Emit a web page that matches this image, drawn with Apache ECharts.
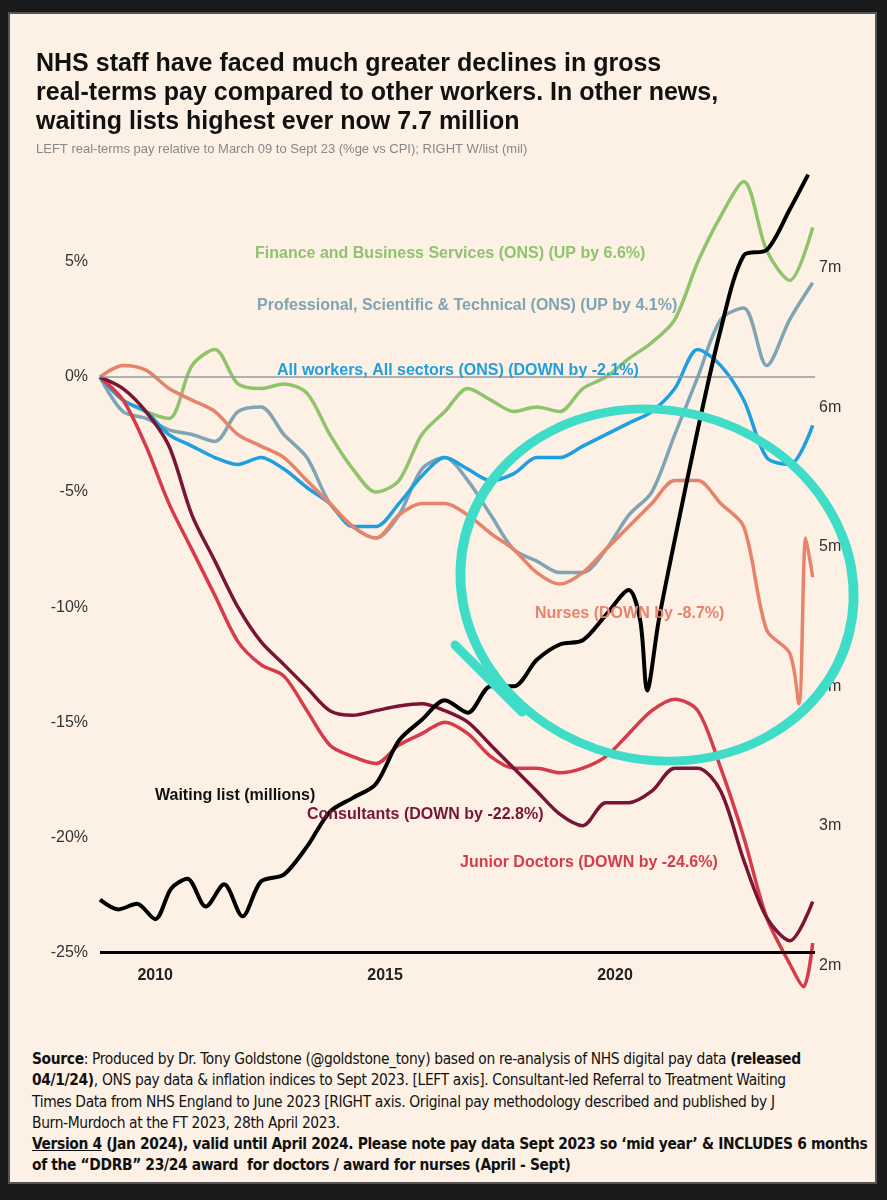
<!DOCTYPE html>
<html><head><meta charset="utf-8">
<script src="https://cdn.jsdelivr.net/npm/echarts@6/dist/echarts.min.js"></script>
<style>
html,body{margin:0;padding:0;background:#1a1a1a;}
#wrap{position:absolute;left:8px;top:12px;width:869px;height:1172px;background:#fdf1e6;border:2px solid #555;box-sizing:border-box;}
#chart{position:absolute;left:0;top:0;width:887px;height:1040px;}
#foot{position:absolute;left:32px;top:1049px;width:850px;font-family:"DejaVu Sans Condensed","Liberation Sans Narrow",sans-serif;font-stretch:condensed;font-size:15.4px;line-height:21.3px;color:#111;letter-spacing:-0.35px;white-space:nowrap;}
</style></head><body>
<div id="wrap"></div>
<div id="chart"></div>
<div id="foot"><b>Source</b>: Produced by Dr. Tony Goldstone (@goldstone_tony) based on re-analysis of NHS digital pay data <b>(released</b><br><b>04/1/24)</b>, ONS pay data &amp; inflation indices to Sept 2023. [LEFT axis]. Consultant-led Referral to Treatment Waiting<br>Times Data from NHS England to June 2023 [RIGHT axis. Original pay methodology described and published by J<br>Burn-Murdoch at the FT 2023, 28th April 2023.<br><b><u>Version 4</u> (Jan 2024), valid until April 2024. Please note pay data Sept 2023 so ‘mid year’ &amp; INCLUDES 6 months</b><br><b>of the “DDRB” 23/24 award &nbsp;for doctors / award for nurses (April - Sept)</b></div>
<script>
const years = [2008.8,2009.3,2009.8,2010.3,2010.8,2011.3,2011.8,2012.3,2012.8,2013.3,2013.8,2014.3,2014.8,2015.3,2015.8,2016.3,2016.8,2017.3,2017.8,2018.3,2018.8,2019.3,2019.8,2020.3,2020.8,2021.3,2021.8,2022.3,2022.8,2023.3,2023.8,2024.3];
const finance = [0,-1,-1.5,-1.8,0.5,1.2,-0.3,-0.5,-0.3,-0.7,-2.5,-4,-5,-4.5,-2.5,-1.5,-0.5,-1,-1.5,-1.3,-1.5,-0.5,0,0.8,1.5,2.5,5,7,8.5,5.5,4.2,6.5];
const professional = [0,-1.5,-1.8,-2.3,-2.5,-2.8,-1.5,-1.3,-2.5,-3.5,-5.5,-6.5,-7,-6,-4,-3.5,-4.5,-6,-7.5,-8,-8.5,-8.5,-7.5,-6,-5,-2.5,0,2.5,3,0.5,2.5,4.1];
const allWorkers = [0,-1,-1.5,-2.5,-3,-3.5,-3.8,-3.5,-4,-4.8,-5.5,-6.5,-6.5,-5.5,-4.3,-3.5,-4,-4.5,-4.2,-3.5,-3.5,-3,-2.5,-2,-1.5,-0.5,1.2,0.5,-1,-3.5,-3.8,-2.1];
const nurseYears = years.slice(0,31).concat([2024.0,2024.15,2024.3]);
const nurses = [0,0.5,0.3,-0.5,-1,-1.5,-2.5,-3,-3.5,-4.5,-5.5,-6.5,-7,-6,-5.5,-5.5,-6,-6.8,-7.5,-8.5,-9,-8.5,-7.5,-6.5,-5.5,-4.5,-4.5,-5.5,-6.5,-11,-12,-14.2,-7,-8.7];
const consultants = [0,-0.5,-1.5,-3,-6,-8,-10,-11.5,-12.5,-13.5,-14.5,-14.7,-14.5,-14.3,-14.2,-14.5,-15,-16,-17,-18,-19,-19.5,-18.5,-18.5,-18,-17,-17,-18,-21,-23.5,-24.5,-22.8];
const juniorYears = years.slice(0,31).concat([2024.1,2024.3]);
const junior = [0,-1,-3,-5.5,-7.5,-9.5,-11.5,-12.5,-13,-14.5,-16,-16.5,-16.8,-16,-15.5,-15,-15.5,-16.5,-17,-17,-17.2,-17,-16.5,-15.5,-14.5,-14,-14.5,-17,-20,-23.5,-25.5,-26.5,-24.6];
const waitYears = [2008.8,2009.2,2009.6,2010.0,2010.35,2010.7,2011.1,2011.5,2011.9,2012.3,2012.8,2013.3,2013.8,2014.3,2014.8,2015.3,2015.8,2016.3,2016.8,2017.3,2017.8,2018.3,2018.8,2019.3,2019.8,2020.3,2020.55,2020.7,2020.95,2021.3,2021.8,2022.3,2022.8,2023.3,2023.8,2024.2];
const waiting = [2.47,2.4,2.44,2.33,2.55,2.62,2.42,2.58,2.35,2.6,2.65,2.85,3.1,3.2,3.3,3.61,3.76,3.9,3.81,4.0,4.0,4.19,4.3,4.33,4.51,4.69,4.47,3.97,4.47,5.05,5.84,6.56,7.09,7.13,7.42,7.67];
const leftTicks = [-25,-20,-15,-10,-5,0,5];
const rightTicks = [2,3,4,5,6,7];
const xTicks = [2010,2015,2020];

const zip = (xs, ys) => xs.map((x,i)=>[x,ys[i]]);
const chart = echarts.init(document.getElementById('chart'));
const mk = (name,xs,ys,color,yi,w) => ({name,type:'line',data:zip(xs,ys),yAxisIndex:yi||0,showSymbol:false,smooth:0.3,clip:false,lineStyle:{color,width:w||3.5},itemStyle:{color},silent:true,z:yi?5:3});
const lbl = (text,x,y,color,size) => ({type:'text',left:x,top:y,style:{text,fill:color,font:'bold '+(size||16)+'px "Liberation Sans",Arial,sans-serif'},z:20});
chart.setOption({
  backgroundColor:'transparent',
  animation:false,
  grid:{left:100,right:72,top:147,bottom:74},
  xAxis:{type:'value',min:2008.8,max:2024.35,axisLine:{show:false},axisTick:{show:false},splitLine:{show:false},
    axisLabel:{customValues:xTicks,formatter:v=>String(v),color:'#222',fontWeight:'bold',fontSize:16,margin:2,fontFamily:'Liberation Sans'}},
  yAxis:[
    {type:'value',min:-25.6,max:10,axisLine:{show:false},axisTick:{show:false},splitLine:{show:false},
     axisLabel:{customValues:leftTicks,formatter:v=>v+'%',color:'#333',fontSize:16,margin:12,fontFamily:'Liberation Sans'}},
    {type:'value',position:'right',min:1.994,max:7.868,axisLine:{show:false},axisTick:{show:false},splitLine:{show:false},
     axisLabel:{customValues:rightTicks,formatter:v=>v+'m',color:'#333',fontSize:16,margin:4,fontFamily:'Liberation Sans'}}
  ],
  series:[
    Object.assign(mk('Finance',years,finance,'#8fc46c'),{markLine:{silent:true,symbol:'none',label:{show:false},data:[{yAxis:0,lineStyle:{color:'#999',width:1.5,type:'solid'}},{yAxis:-25,lineStyle:{color:'#000',width:3,type:'solid'}}]}}),
    mk('Professional',years,professional,'#7fa4b4'),
    mk('All workers',years,allWorkers,'#1e9fe0'),
    mk('Nurses',nurseYears,nurses,'#e6836a'),
    mk('Junior Doctors',juniorYears,junior,'#d63b4a'),
    mk('Consultants',years,consultants,'#7a1434'),
    mk('Waiting list',waitYears,waiting,'#000',1,4)
  ],
  graphic:[
    {type:'text',left:36,top:50,style:{text:'NHS staff have faced much greater declines in gross\nreal-terms pay compared to other workers. In other news,\nwaiting lists highest ever now 7.7 million',fill:'#111',font:'bold 25px "Liberation Sans",Arial,sans-serif',lineHeight:29},z:20},
    {type:'text',left:36,top:143,style:{text:'LEFT real-terms pay relative to March 09 to Sept 23 (%ge vs CPI); RIGHT W/list (mil)',fill:'#888',font:'13px "Liberation Sans Narrow","Liberation Sans",sans-serif'},z:20},
    lbl('Finance and Business Services (ONS) (UP by 6.6%)',255,246,'#8fc46c'),
    lbl('Professional, Scientific & Technical (ONS) (UP by 4.1%)',257,298,'#7fa4b4'),
    lbl('All workers, All sectors (ONS) (DOWN by -2.1%)',277,363,'#1e9fe0'),
    lbl('Nurses (DOWN by -8.7%)',535,606,'#e6836a'),
    lbl('Waiting list (millions)',155,788,'#111'),
    lbl('Consultants (DOWN by -22.8%)',307,807,'#7a1434'),
    lbl('Junior Doctors (DOWN by -24.6%)',460,855,'#d63b4a'),
    {type:'circle',shape:{cx:0,cy:0,r:180},x:657,y:585,scaleX:1.1,scaleY:0.97,rotation:-0.25,style:{fill:'none',stroke:'#3fdcc8',lineWidth:9},z:15},
    {type:'line',shape:{x1:455,y1:645,x2:522,y2:712},style:{stroke:'#3fdcc8',lineWidth:9,lineCap:'round'},z:15}
  ]
});
</script></body></html>
